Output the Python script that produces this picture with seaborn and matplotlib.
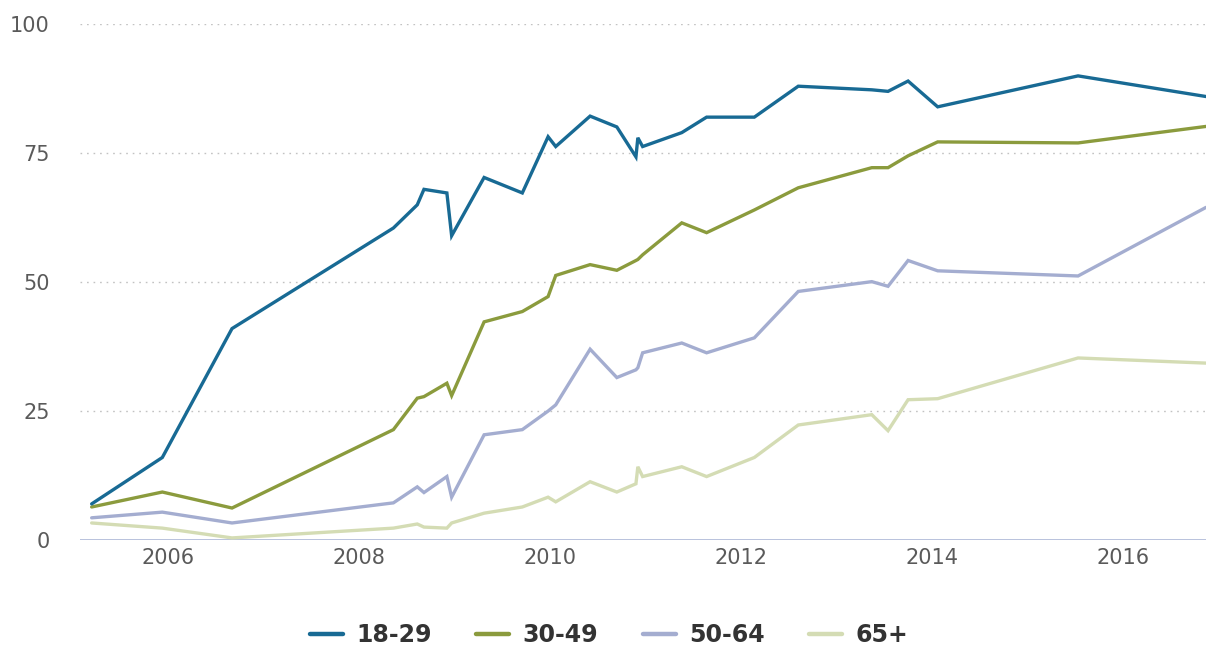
import numpy as np
import pandas as pd
import matplotlib
matplotlib.use("Agg")
import matplotlib.pyplot as plt
import seaborn as sns
from matplotlib.lines import Line2D

# survey dates (decimal years)
dates = [2005.20, 2005.94, 2006.67, 2008.36, 2008.61, 2008.68, 2008.92, 2008.97,
         2009.31, 2009.71, 2009.98, 2010.06, 2010.42, 2010.70, 2010.90, 2010.92,
         2010.97, 2011.38, 2011.64, 2012.14, 2012.60, 2013.37, 2013.54, 2013.75,
         2014.06, 2015.53, 2016.87]
age_18_29 = [7, 16, 41, 60.5, 65, 68, 67.3, 59, 70.3, 67.3, 78.2, 76.3, 82.2, 80.1,
             74.3, 78, 76.3, 79, 82, 82, 88, 87.3, 87, 89, 84, 90, 86]
age_30_49 = [6.4, 9.3, 6.2, 21.4, 27.5, 27.8, 30.4, 28, 42.3, 44.3, 47.2, 51.3, 53.4,
             52.3, 54.2, 54.4, 55.3, 61.5, 59.6, 64, 68.3, 72.2, 72.2, 74.5, 77.2, 77, 80.2]
age_50_64 = [4.3, 5.4, 3.3, 7.2, 10.3, 9.2, 12.3, 8.3, 20.4, 21.4, 25, 26.2, 37, 31.5,
             33, 33.4, 36.3, 38.2, 36.3, 39.2, 48.2, 50.1, 49.2, 54.2, 52.2, 51.2, 64.5]
age_65 = [3.3, 2.3, 0.4, 2.3, 3.1, 2.5, 2.3, 3.3, 5.2, 6.4, 8.3, 7.4, 11.3, 9.3,
          10.9, 14.2, 12.3, 14.2, 12.3, 16, 22.3, 24.3, 21.2, 27.2, 27.4, 35.3, 34.3]
series_names = ["18-29", "30-49", "50-64", "65+"]
colors = ["#186a94", "#8b9b3d", "#a4add0", "#d4dcb4"]
y_ticks = [0, 25, 50, 75, 100]
x_ticks = [2006, 2008, 2010, 2012, 2014, 2016]

frames = []
for name, vals in zip(series_names, [age_18_29, age_30_49, age_50_64, age_65]):
    frames.append(pd.DataFrame({"date": dates, "value": vals, "age": name}))
df = pd.concat(frames, ignore_index=True)

sns.set_style("white")
fig = plt.figure(figsize=(12.06, 6.47), dpi=100)
ax = fig.add_axes([0.0665, 0.1654, 0.9335, 0.797])

sns.lineplot(data=df, x="date", y="value", hue="age", hue_order=series_names,
             palette=colors, linewidth=2.4, sort=False, ax=ax, legend=False,
             clip_on=False)
for i, l in enumerate(ax.lines):
    l.set_zorder(5 - i)
    l.set_solid_joinstyle("miter")

ax.set_xlim(2005.08, 2016.87)
ax.set_ylim(0, 100)
ax.set_yticks(y_ticks)
ax.set_xticks(x_ticks)
ax.set_xticklabels([str(x) for x in x_ticks])
ax.set_yticklabels([str(y) for y in y_ticks])
ax.tick_params(axis="both", length=0, labelsize=15, labelcolor="#5a5a5a")
ax.tick_params(axis="y", pad=22)
ax.tick_params(axis="x", pad=6)
ax.set_xlabel("")
ax.set_ylabel("")
for s in ax.spines.values():
    s.set_visible(False)
for yv in y_ticks[1:]:
    ax.axhline(yv, color="#c2c2c2", linewidth=1.0, linestyle=(0, (1.2, 3.5)), zorder=0)
ax.axhline(0, color="#b9c2dd", linewidth=1.4, zorder=1)

handles = [Line2D([0], [0], color=c, linewidth=3.2) for c in colors]
leg = fig.legend(handles, series_names, loc="center", bbox_to_anchor=(0.505, 0.018),
                 ncol=4, frameon=False, handlelength=1.4, handletextpad=0.55,
                 columnspacing=1.9,
                 prop={"weight": "bold", "size": 17})
for t in leg.get_texts():
    t.set_color("#333333")

fig.savefig("out.png", dpi=100)
